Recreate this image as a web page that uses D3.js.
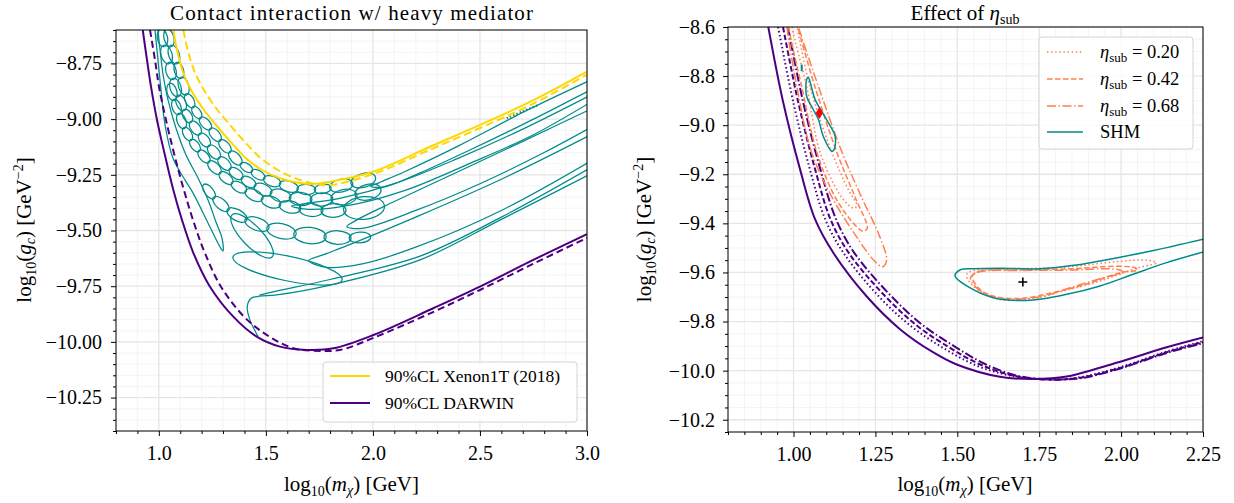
<!DOCTYPE html>
<html><head><meta charset="utf-8">
<script src="https://cdn.jsdelivr.net/npm/d3@7"></script>
<style>
body{margin:0;background:#fff}
text{font-family:"Liberation Serif","Times New Roman",serif;fill:#000}
</style></head>
<body><svg id="c" width="1234" height="503"></svg>
<script>
// ---------------- tick values / labels ----------------
const leftXTicks=[1.0,1.5,2.0,2.5,3.0];
const leftXLabels=["1.0","1.5","2.0","2.5","3.0"];
const leftYTicks=[-10.25,-10.0,-9.75,-9.5,-9.25,-9.0,-8.75];
const leftYLabels=["\u221210.25","\u221210.00","\u22129.75","\u22129.50","\u22129.25","\u22129.00","\u22128.75"];
const rightXTicks=[1.0,1.25,1.5,1.75,2.0,2.25];
const rightXLabels=["1.00","1.25","1.50","1.75","2.00","2.25"];
const rightYTicks=[-10.2,-10.0,-9.8,-9.6,-9.4,-9.2,-9.0,-8.8,-8.6];
const rightYLabels=["\u221210.2","\u221210.0","\u22129.8","\u22129.6","\u22129.4","\u22129.2","\u22129.0","\u22128.8","\u22128.6"];

// ---------------- left panel series ----------------
const xenonSolid=[[1.0676,-8.6],[1.0802,-8.6673],[1.0966,-8.7346],[1.1176,-8.802],[1.155,-8.8769],[1.204,-8.9501],[1.2671,-9.0264],[1.3348,-9.1013],[1.4072,-9.1758],[1.4819,-9.2284],[1.566,-9.2656],[1.6454,-9.2845],[1.7201,-9.2912],[1.7995,-9.2809],[2.0004,-9.236],[2.267,-9.124],[2.5,-9.026],[2.75,-8.915],[3.0,-8.787]];
const xenonDashed=[[1.1143,-8.6],[1.1293,-8.6673],[1.148,-8.7346],[1.1737,-8.802],[1.2157,-8.8769],[1.2671,-8.9501],[1.3325,-9.0264],[1.4002,-9.1013],[1.4772,-9.1758],[1.5567,-9.2284],[1.636,-9.2656],[1.7341,-9.2912],[1.7995,-9.2957],[2.0,-9.247],[2.267,-9.137],[2.5,-9.04],[2.75,-8.93],[3.0,-8.80]];
const darwinSolidL=[[0.925,-8.6],[0.9448,-8.7346],[0.9635,-8.8545],[0.9915,-9.0039],[1.0265,-9.1534],[1.0639,-9.3033],[1.1083,-9.4528],[1.162,-9.6022],[1.239,-9.7522],[1.3479,-9.8868],[1.4572,-9.9766],[1.566,-10.0214],[1.691,-10.036],[1.815,-10.029],[2.002,-9.969],[2.282,-9.849],[2.5,-9.752],[2.749,-9.632],[3.0,-9.516]];
const darwinDashedL=[[0.9588,-8.6],[0.9822,-8.7346],[1.0008,-8.8545],[1.0335,-9.0039],[1.0709,-9.1534],[1.1129,-9.3033],[1.1596,-9.4528],[1.2157,-9.6022],[1.2904,-9.7522],[1.3979,-9.8868],[1.5039,-9.9689],[1.6281,-10.0286],[1.7215,-10.0394],[1.8462,-10.0362],[2.002,-9.982],[2.281,-9.866],[2.5,-9.767],[2.748,-9.65],[3.0,-9.533]];

// teal contours (reconstructed regions)
const tealLong=[[0.982,-8.6],[0.996,-8.735],[1.010,-8.869],[1.029,-9.026],[1.066,-9.175],[1.122,-9.273],[1.160,-9.332],[1.239,-9.484],[1.286,-9.574],[1.300,-9.592],[1.295,-9.534],[1.267,-9.462],[1.230,-9.363],[1.183,-9.264],[1.127,-9.161],[1.080,-9.040],[1.043,-8.914],[1.020,-8.802],[1.006,-8.690],[0.996,-8.6],[0.99,-8.5]];
const tealBand1=[[3.05,-8.81],[2.7,-8.97],[2.4,-9.12],[2.15,-9.235],[2.03,-9.285],[1.99,-9.302],[2.05,-9.305],[2.2,-9.25],[2.45,-9.14],[2.75,-9.0],[3.05,-8.852]];
const tealBand2=[[3.05,-8.876],[2.7,-9.045],[2.4,-9.175],[2.1,-9.29],[1.85,-9.355],[1.68,-9.38],[1.62,-9.39],[1.7,-9.405],[1.9,-9.385],[2.15,-9.32],[2.45,-9.2],[2.75,-9.07],[3.05,-8.905]];
const tealBand3=[[3.05,-8.94],[2.7,-9.1],[2.4,-9.235],[2.1,-9.37],[1.93,-9.45],[1.878,-9.483],[1.95,-9.49],[2.2,-9.41],[2.5,-9.29],[2.8,-9.15],[3.05,-9.02]];
const tealBand4=[[3.05,-9.055],[2.6,-9.27],[2.2,-9.44],[1.9,-9.56],[1.78,-9.605],[1.70,-9.635],[1.78,-9.665],[1.95,-9.65],[2.2,-9.575],[2.6,-9.41],[3.05,-9.17]];
const tealBand5=[[1.47,-9.79],[1.55,-9.772],[1.8,-9.72],[2.22,-9.615],[2.6,-9.44],[3.05,-9.20]];
const tealLowest=[[1.463,-9.975],[1.425,-9.9],[1.413,-9.842],[1.43,-9.805],[1.47,-9.795],[1.55,-9.789],[1.8,-9.745],[2.22,-9.632],[2.6,-9.45],[3.05,-9.23]];
const tealDotted=[[2.625,-8.996],[2.70,-8.965],[2.773,-8.937]];
// chains of small closed lobes (consecutive points = ends of one lobe)
const meshRowA=[[1.038,-8.600],[1.057,-8.672],[1.084,-8.748],[1.104,-8.815],[1.128,-8.889],[1.160,-8.946],[1.195,-8.995],[1.241,-9.044],[1.286,-9.096],[1.332,-9.148],[1.383,-9.201],[1.435,-9.233],[1.492,-9.266],[1.566,-9.291],[1.648,-9.314],[1.729,-9.318],[1.802,-9.308],[1.902,-9.289],[2.008,-9.262]];
const meshRowB=[[1.010,-8.600],[1.024,-8.672],[1.048,-8.748],[1.066,-8.820],[1.090,-8.896],[1.118,-8.959],[1.150,-9.013],[1.192,-9.067],[1.234,-9.121],[1.281,-9.175],[1.332,-9.224],[1.389,-9.264],[1.449,-9.300],[1.524,-9.332],[1.613,-9.354],[1.711,-9.363],[1.809,-9.359],[1.921,-9.341],[2.033,-9.314]];
const meshRowC=[[1.052,-8.842],[1.071,-8.914],[1.094,-8.977],[1.118,-9.040],[1.150,-9.094],[1.188,-9.143],[1.234,-9.192],[1.286,-9.242],[1.342,-9.287],[1.407,-9.323],[1.482,-9.359],[1.566,-9.385],[1.659,-9.403],[1.762,-9.412],[1.870,-9.408],[2.047,-9.390]];
const meshRowD=[[1.211,-9.296],[1.258,-9.354],[1.323,-9.408],[1.407,-9.453],[1.510,-9.489],[1.636,-9.516],[1.776,-9.529],[1.893,-9.534],[1.986,-9.529]];
const meshRowE=[[1.346,-9.619],[1.856,-9.722]];
const meshRowF=[[1.342,-9.430],[1.529,-9.619]];

// ---------------- right panel series ----------------
const darwinSolidR=[[0.923,-8.6],[0.969,-8.91],[1.02,-9.18],[1.066,-9.384],[1.121,-9.519],[1.223,-9.697],[1.325,-9.831],[1.427,-9.926],[1.498,-9.975],[1.63,-10.025],[1.732,-10.034],[1.834,-10.024],[1.986,-9.968],[2.139,-9.905],[2.25,-9.865]];
const darwinDottedR=[[0.953,-8.6],[1.0,-8.91],[1.05,-9.18],[1.097,-9.384],[1.152,-9.519],[1.26,-9.697],[1.36,-9.82],[1.46,-9.91],[1.56,-9.98],[1.66,-10.02],[1.76,-10.035],[1.86,-10.03],[2.0,-9.985],[2.139,-9.922],[2.25,-9.88]];
const darwinDashedR=[[0.968,-8.6],[1.015,-8.91],[1.066,-9.18],[1.113,-9.384],[1.168,-9.519],[1.275,-9.69],[1.375,-9.815],[1.475,-9.905],[1.57,-9.975],[1.67,-10.02],[1.77,-10.036],[1.87,-10.03],[2.0,-9.988],[2.139,-9.925],[2.25,-9.884]];
const darwinDashDotR=[[0.983,-8.6],[1.03,-8.91],[1.082,-9.18],[1.13,-9.384],[1.185,-9.519],[1.29,-9.685],[1.39,-9.81],[1.49,-9.90],[1.58,-9.97],[1.68,-10.02],[1.78,-10.036],[1.88,-10.03],[2.0,-9.99],[2.139,-9.928],[2.25,-9.888]];

const eta20Left=[[0.99,-8.55],[0.995,-8.6],[1.04,-8.842],[1.081,-9.11],[1.14,-9.28],[1.172,-9.33],[1.188,-9.338],[1.192,-9.32],[1.17,-9.27],[1.117,-9.11],[1.05,-8.842],[1.01,-8.6],[1.0,-8.55]];
const eta42Left=[[0.983,-8.55],[0.985,-8.6],[1.025,-8.842],[1.071,-9.11],[1.13,-9.3],[1.19,-9.41],[1.212,-9.432],[1.225,-9.42],[1.19,-9.3],[1.132,-9.11],[1.065,-8.842],[1.013,-8.6],[1.003,-8.55]];
const eta68Left=[[0.978,-8.55],[0.98,-8.6],[1.01,-8.842],[1.055,-9.11],[1.12,-9.3],[1.19,-9.45],[1.245,-9.55],[1.272,-9.577],[1.284,-9.55],[1.262,-9.45],[1.21,-9.3],[1.148,-9.11],[1.076,-8.842],[1.015,-8.6],[1.005,-8.55]];
const eta20Right=[[1.529,-9.607],[1.55,-9.592],[1.63,-9.587],[1.834,-9.578],[1.986,-9.556],[2.08,-9.55],[2.108,-9.562],[2.07,-9.575],[2.037,-9.587],[1.936,-9.635],[1.834,-9.672],[1.732,-9.706],[1.63,-9.71],[1.569,-9.676],[1.535,-9.635]];
const eta42Right=[[1.545,-9.615],[1.57,-9.595],[1.7,-9.59],[1.85,-9.585],[1.98,-9.575],[2.04,-9.58],[2.05,-9.59],[2.0,-9.6],[1.9,-9.645],[1.8,-9.68],[1.7,-9.705],[1.62,-9.7],[1.57,-9.67]];
const eta68Right=[[1.54,-9.625],[1.56,-9.6],[1.7,-9.592],[1.85,-9.59],[1.96,-9.585],[2.0,-9.592],[2.005,-9.60],[1.95,-9.62],[1.85,-9.66],[1.75,-9.70],[1.65,-9.708],[1.58,-9.685]];
const shmLeft=[[1.04,-8.814],[1.04,-8.882],[1.058,-8.93],[1.076,-8.977],[1.091,-9.046],[1.117,-9.106],[1.124,-9.1],[1.127,-9.046],[1.101,-8.977],[1.066,-8.896],[1.05,-8.821],[1.045,-8.805]];
const shmTick=[[1.025,-8.753],[1.025,-8.78]];
const shmRight=[[2.26,-9.462],[2.088,-9.514],[1.936,-9.553],[1.85,-9.572],[1.752,-9.585],[1.63,-9.583],[1.55,-9.585],[1.508,-9.59],[1.493,-9.614],[1.529,-9.655],[1.61,-9.703],[1.712,-9.714],[1.834,-9.689],[1.936,-9.655],[2.037,-9.607],[2.139,-9.56],[2.26,-9.513]];
const bestFit=[1.079,-8.95];
const truePoint=[1.70,-9.639];

// ---------------- styles ----------------
const TEAL="#008b8b", PURPLE="#4b0082", GOLD="#ffd700", CORAL="#ff7f50";
const SERIF='"Liberation Serif","Times New Roman",serif';
const svg=d3.select("#c");

function makePanel(cfg){
  const x=d3.scaleLinear().domain(cfg.xd).range([cfg.l,cfg.l+cfg.w]);
  const y=d3.scaleLinear().domain(cfg.yd).range([cfg.t+cfg.h,cfg.t]);
  const g=svg.append("g");
  const eps=1e-6;
  const minorX=d3.range(Math.round(cfg.xd[0]/cfg.mx),Math.round(cfg.xd[1]/cfg.mx)+1).map(k=>+(k*cfg.mx).toFixed(4)).filter(v=>!cfg.xt.some(t=>Math.abs(t-v)<eps));
  const minorY=d3.range(Math.round(cfg.yd[0]/cfg.my),Math.round(cfg.yd[1]/cfg.my)+1).map(k=>+(k*cfg.my).toFixed(4)).filter(v=>v>=cfg.yd[0]-eps&&v<=cfg.yd[1]+eps&&!cfg.yt.some(t=>Math.abs(t-v)<eps));
  const grid=g.append("g");
  grid.selectAll(".mgx").data(minorX).join("line").attr("x1",d=>x(d)).attr("x2",d=>x(d)).attr("y1",cfg.t).attr("y2",cfg.t+cfg.h).attr("stroke","#f1f1f1").attr("stroke-width",0.8);
  grid.selectAll(".mgy").data(minorY).join("line").attr("y1",d=>y(d)).attr("y2",d=>y(d)).attr("x1",cfg.l).attr("x2",cfg.l+cfg.w).attr("stroke","#f1f1f1").attr("stroke-width",0.8);
  grid.selectAll(".Mgx").data(cfg.xt).join("line").attr("x1",d=>x(d)).attr("x2",d=>x(d)).attr("y1",cfg.t).attr("y2",cfg.t+cfg.h).attr("stroke","#e6e6e6").attr("stroke-width",1.3);
  grid.selectAll(".Mgy").data(cfg.yt).join("line").attr("y1",d=>y(d)).attr("y2",d=>y(d)).attr("x1",cfg.l).attr("x2",cfg.l+cfg.w).attr("stroke","#e6e6e6").attr("stroke-width",1.3);

  const cid="clip"+cfg.id;
  svg.append("clipPath").attr("id",cid).append("rect").attr("x",cfg.l).attr("y",cfg.t).attr("width",cfg.w).attr("height",cfg.h);
  const plot=g.append("g").attr("clip-path",`url(#${cid})`);

  const axes=[];
  axes.push(g.append("g").attr("transform",`translate(0,${cfg.t+cfg.h})`)
    .call(d3.axisBottom(x).tickValues(cfg.xt).tickFormat((d,i)=>cfg.xl[i]).tickSize(5).tickPadding(10).tickSizeOuter(0)));
  axes.push(g.append("g").attr("transform",`translate(0,${cfg.t+cfg.h})`)
    .call(d3.axisBottom(x).tickValues(minorX).tickFormat("").tickSize(3).tickSizeOuter(0)));
  axes.push(g.append("g").attr("transform",`translate(${cfg.l},0)`)
    .call(d3.axisLeft(y).tickValues(cfg.yt).tickFormat((d,i)=>cfg.yl[i]).tickSize(5).tickPadding(cfg.ypad).tickSizeOuter(0)));
  axes.push(g.append("g").attr("transform",`translate(${cfg.l},0)`)
    .call(d3.axisLeft(y).tickValues(minorY).tickFormat("").tickSize(3).tickSizeOuter(0)));
  axes.forEach(a=>{a.attr("font-family",SERIF).attr("font-size",20);a.select(".domain").remove();
    a.selectAll("text").attr("font-family",SERIF).style("font-family",SERIF).style("font-size","20px");});
  g.append("rect").attr("x",cfg.l).attr("y",cfg.t).attr("width",cfg.w).attr("height",cfg.h).attr("fill","none").attr("stroke","#000").attr("stroke-width",1);
  return {x,y,plot,g};
}

function lineGen(P,closed){
  return d3.line().x(d=>P.x(d[0])).y(d=>P.y(d[1])).curve(closed?d3.curveCatmullRomClosed.alpha(0.5):d3.curveCatmullRom.alpha(0.5));
}
function draw(P,data,color,width,dash,closed){
  P.plot.append("path").datum(data).attr("d",lineGen(P,closed)).attr("fill","none")
    .attr("stroke",color).attr("stroke-width",width).attr("stroke-dasharray",dash||null)
    .attr("stroke-linejoin","round");
}
function lobes(P,row,ratio,stretch){
  for(let i=0;i<row.length-1;i++){
    const x1=P.x(row[i][0]),y1=P.y(row[i][1]),x2=P.x(row[i+1][0]),y2=P.y(row[i+1][1]);
    const cx=(x1+x2)/2,cy=(y1+y2)/2,L=Math.hypot(x2-x1,y2-y1)/2*stretch;
    const ang=Math.atan2(y2-y1,x2-x1)*180/Math.PI;
    P.plot.append("ellipse").attr("cx",cx).attr("cy",cy).attr("rx",L).attr("ry",Math.max(2.4,L*ratio))
      .attr("transform",`rotate(${ang},${cx},${cy})`).attr("fill","none").attr("stroke",TEAL).attr("stroke-width",1.25);
  }
}

// ---------------- LEFT PANEL ----------------
const L=makePanel({id:"L",l:116,t:30,w:471,h:401,xd:[0.8,3.0],yd:[-10.4,-8.6],xt:leftXTicks,xl:leftXLabels,yt:leftYTicks,yl:leftYLabels,mx:0.1,my:0.05,ypad:9});
lobes(L,meshRowA,0.55,1.08);
lobes(L,meshRowB,0.58,1.08);
lobes(L,meshRowC,0.55,1.08);
lobes(L,meshRowD,0.5,1.08);
lobes(L,meshRowE,0.22,1.0);
lobes(L,meshRowF,0.35,1.0);
draw(L,tealLong,TEAL,1.25,null,false);
[tealBand1,tealBand2,tealBand3,tealBand4,tealBand5,tealLowest].forEach(b=>draw(L,b,TEAL,1.25,null,false));
draw(L,tealDotted,TEAL,2,"1.5,2",false);
draw(L,darwinDashedL,PURPLE,2,"7,4",false);
draw(L,darwinSolidL,PURPLE,2,null,false);
draw(L,xenonDashed,GOLD,2,"8,4",false);
draw(L,xenonSolid,GOLD,2,null,false);

svg.append("text").attr("x",351.5).attr("y",20).attr("text-anchor","middle").style("font-size","21px")
  .attr("textLength",363).attr("lengthAdjust","spacing").text("Contact interaction w/ heavy mediator");

function xLabel(cx){
  const t=svg.append("text").attr("x",cx).attr("y",491).attr("text-anchor","middle").style("font-size","21px");
  t.append("tspan").text("log");
  t.append("tspan").attr("dy",5).style("font-size","14px").text("10");
  t.append("tspan").attr("dy",-5).text("(");
  t.append("tspan").style("font-style","italic").text("m");
  t.append("tspan").attr("dy",4).style("font-size","14px").style("font-style","italic").text("\u03c7");
  t.append("tspan").attr("dy",-4).text(") [GeV]");
}
function yLabel(bx,cy){
  const t=svg.append("text").attr("transform",`translate(${bx},${cy}) rotate(-90)`).attr("text-anchor","middle").style("font-size","21px");
  t.append("tspan").text("log");
  t.append("tspan").attr("dy",5).style("font-size","14px").text("10");
  t.append("tspan").attr("dy",-5).text("(");
  t.append("tspan").style("font-style","italic").text("g");
  t.append("tspan").attr("dy",4).style("font-size","14px").style("font-style","italic").text("c");
  t.append("tspan").attr("dy",-4).text(") [GeV");
  t.append("tspan").attr("dy",-8).style("font-size","14px").text("\u22122");
  t.append("tspan").attr("dy",8).text("]");
}
xLabel(351.5); yLabel(31,230);

const lg=svg.append("g");
lg.append("rect").attr("x",323).attr("y",362).attr("width",254).attr("height",60).attr("rx",3).attr("fill","#fff").attr("fill-opacity",0.85).attr("stroke","#d4d4d4");
const legL=[{c:GOLD,t:"90%CL Xenon1T (2018)",y:376},{c:PURPLE,t:"90%CL DARWIN",y:403}];
legL.forEach(e=>{
  lg.append("line").attr("x1",330).attr("x2",370).attr("y1",e.y).attr("y2",e.y).attr("stroke",e.c).attr("stroke-width",2);
  lg.append("text").attr("x",385).attr("y",e.y+6).style("font-size","17.5px").text(e.t);
});

// ---------------- RIGHT PANEL ----------------
const R=makePanel({id:"R",l:728,t:27,w:475,h:405,xd:[0.8,2.25],yd:[-10.25,-8.6],xt:rightXTicks,xl:rightXLabels,yt:rightYTicks,yl:rightYLabels,mx:0.05,my:0.05,ypad:8});
const DOT="1.5,2.6", DASH="5.5,2.5", DASHDOT="9,2.5,1.5,2.5";
draw(R,darwinSolidR,PURPLE,2,null,false);
draw(R,darwinDottedR,PURPLE,2,DOT,false);
draw(R,darwinDashedR,PURPLE,2,DASH,false);
draw(R,darwinDashDotR,PURPLE,2,DASHDOT,false);
draw(R,eta20Left,CORAL,1.5,DOT,true);
draw(R,eta42Left,CORAL,1.5,DASH,true);
draw(R,eta68Left,CORAL,1.5,DASHDOT,true);
draw(R,eta20Right,CORAL,1.5,DOT,true);
draw(R,eta42Right,CORAL,1.5,DASH,true);
draw(R,eta68Right,CORAL,1.5,DASHDOT,true);
draw(R,shmLeft,TEAL,1.5,null,true);
draw(R,shmTick,TEAL,2,null,false);
draw(R,shmRight,TEAL,1.5,null,false);
R.plot.append("path").attr("transform",`translate(${R.x(bestFit[0])},${R.y(bestFit[1])})`)
  .attr("d","M0,-6L3.6,0L0,6L-3.6,0Z").attr("fill","#ff0000");
R.plot.append("path").attr("transform",`translate(${R.x(truePoint[0])},${R.y(truePoint[1])})`)
  .attr("d","M-4.5,0H4.5M0,-4.5V4.5").attr("stroke","#000").attr("stroke-width",1.6);

const rt=svg.append("text").attr("x",965).attr("y",20).attr("text-anchor","middle").style("font-size","21px");
rt.append("tspan").text("Effect of ");
rt.append("tspan").style("font-style","italic").text("\u03b7");
rt.append("tspan").attr("dy",4).style("font-size","14px").text("sub");
xLabel(965); yLabel(651,229.5);

const rg=svg.append("g");
rg.append("rect").attr("x",1039).attr("y",37).attr("width",154).attr("height",112).attr("rx",3).attr("fill","#fff").attr("fill-opacity",0.85).attr("stroke","#d4d4d4");
const legR=[{d:DOT,c:CORAL,v:"0.20",y:52},{d:DASH,c:CORAL,v:"0.42",y:79},{d:DASHDOT,c:CORAL,v:"0.68",y:106},{d:null,c:TEAL,v:null,y:132}];
legR.forEach(e=>{
  rg.append("line").attr("x1",1047).attr("x2",1083).attr("y1",e.y).attr("y2",e.y).attr("stroke",e.c).attr("stroke-width",1.6).attr("stroke-dasharray",e.d);
  const t=rg.append("text").attr("x",1100).attr("y",e.y+6).style("font-size","18.5px");
  if(e.v){
    t.append("tspan").style("font-style","italic").text("\u03b7");
    t.append("tspan").attr("dy",4).style("font-size","13px").text("sub");
    t.append("tspan").attr("dy",-4).text(" = "+e.v);
  } else t.text("SHM");
});
svg.selectAll("text").style("font-family",SERIF);
</script></body></html>
